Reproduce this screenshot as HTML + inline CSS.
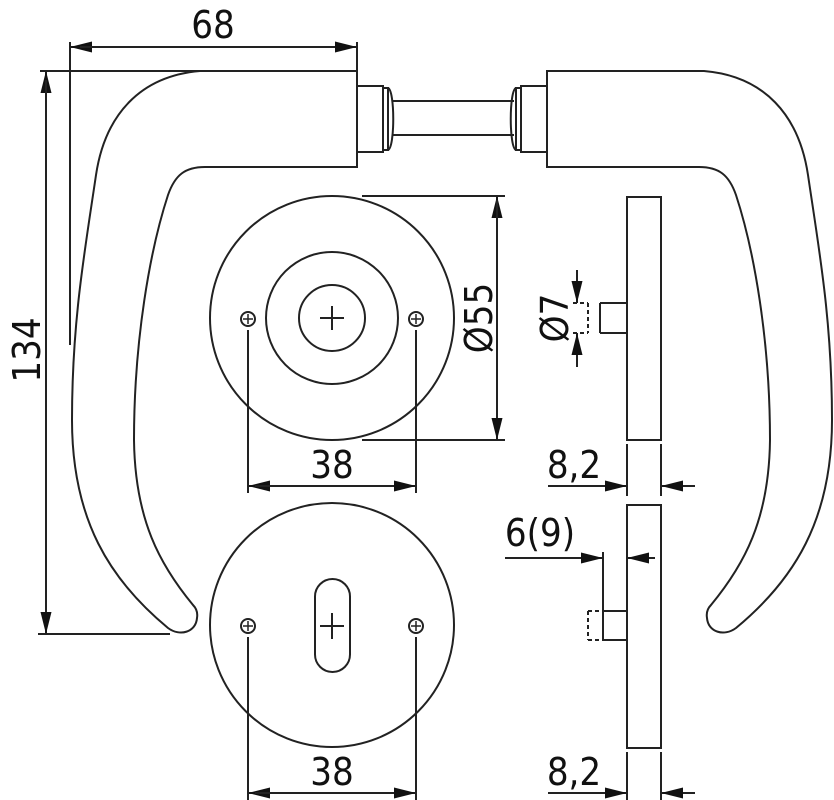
<!DOCTYPE html>
<html><head><meta charset="utf-8"><style>
html,body{margin:0;padding:0;background:#fff;}
svg{display:block;}
text{font-family:"DejaVu Sans Condensed","DejaVu Sans","Liberation Sans",sans-serif;font-stretch:condensed;fill:#111;}
</style></head><body>
<svg width="834" height="800" viewBox="0 0 834 800" xmlns="http://www.w3.org/2000/svg">
<defs>
<marker id="a" viewBox="0 0 22 12" refX="22" refY="6" markerWidth="22" markerHeight="12" markerUnits="userSpaceOnUse" orient="auto"><path d="M0,0.5 L22,6 L0,11.5 z" fill="#111"/></marker>
</defs>
<g fill="none" stroke="#222" stroke-width="2">
<path d="M357,71 L200,71 C140,76 105,115 96,175 C85,250 72,320 72,420 C72,520 110,580 168,628 C180,637 196,632 197,618 C198,612 196,608 193,605 C160,565 135,520 134,440 C134,340 150,250 168,195 C175,175 185,167 205,167 L357,167 Z"/>
<path transform="translate(904,0) scale(-1,1)" d="M357,71 L200,71 C140,76 105,115 96,175 C85,250 72,320 72,420 C72,520 110,580 168,628 C180,637 196,632 197,618 C198,612 196,608 193,605 C160,565 135,520 134,440 C134,340 150,250 168,195 C175,175 185,167 205,167 L357,167 Z"/>
<rect x="357" y="86" width="26" height="66"/>
<rect x="383" y="88" width="5" height="62"/>
<path d="M388,88 C395,90 395,148 388,150"/>
<line x1="393" y1="101" x2="514" y2="101"/>
<line x1="393" y1="135" x2="514" y2="135"/>
<rect x="521" y="86" width="26" height="66"/>
<rect x="516" y="88" width="5" height="62"/>
<path d="M516,88 C509,90 509,148 516,150"/>
<line x1="70" y1="42" x2="70" y2="345"/>
<line x1="357" y1="42" x2="357" y2="71"/>
<line x1="90" y1="47" x2="70" y2="47" marker-end="url(#a)"/>
<line x1="80" y1="47" x2="357" y2="47" marker-end="url(#a)"/>
<line x1="40" y1="71" x2="200" y2="71"/>
<line x1="38" y1="634" x2="170" y2="634"/>
<line x1="46" y1="90" x2="46" y2="71" marker-end="url(#a)"/>
<line x1="46" y1="80" x2="46" y2="634" marker-end="url(#a)"/>
<circle cx="332" cy="318" r="122"/>
<circle cx="332" cy="318" r="66"/>
<circle cx="332" cy="318" r="33"/>
<line x1="320" y1="318" x2="344" y2="318"/><line x1="332" y1="306" x2="332" y2="330"/>
<circle cx="248" cy="319" r="7"/><circle cx="416" cy="319" r="7"/>
<path d="M243,319h10M248,314v10M411,319h10M416,314v10" stroke-width="1.5"/>
<line x1="362" y1="196" x2="505" y2="196"/>
<line x1="362" y1="440" x2="505" y2="440"/>
<line x1="497" y1="210" x2="497" y2="196" marker-end="url(#a)"/>
<line x1="497" y1="200" x2="497" y2="440" marker-end="url(#a)"/>
<line x1="248" y1="330" x2="248" y2="493"/>
<line x1="416" y1="330" x2="416" y2="493"/>
<line x1="260" y1="486" x2="248" y2="486" marker-end="url(#a)"/>
<line x1="255" y1="486" x2="416" y2="486" marker-end="url(#a)"/>
<circle cx="332" cy="625" r="122"/>
<rect x="315" y="579" width="35" height="93" rx="17.5"/>
<line x1="320" y1="626" x2="344" y2="626"/><line x1="332" y1="613" x2="332" y2="639"/>
<circle cx="248" cy="626" r="7"/><circle cx="416" cy="626" r="7"/>
<path d="M243,626h10M248,621v10M411,626h10M416,621v10" stroke-width="1.5"/>
<line x1="248" y1="637" x2="248" y2="800"/>
<line x1="416" y1="637" x2="416" y2="800"/>
<line x1="260" y1="793" x2="248" y2="793" marker-end="url(#a)"/>
<line x1="255" y1="793" x2="416" y2="793" marker-end="url(#a)"/>
<rect x="627" y="197" width="34" height="243"/>
<path d="M600,303 L627,303 M600,333 L627,333 M600,303 L600,333"/>
<path d="M588,303 L588,333 M573,303 L588,303 M573,333 L588,333" stroke-dasharray="4,3"/>
<line x1="577" y1="270" x2="577" y2="303" marker-end="url(#a)"/>
<line x1="577" y1="367" x2="577" y2="333" marker-end="url(#a)"/>
<line x1="627" y1="444" x2="627" y2="496"/>
<line x1="661" y1="444" x2="661" y2="496"/>
<line x1="548" y1="486" x2="627" y2="486" marker-end="url(#a)"/>
<line x1="695" y1="486" x2="661" y2="486" marker-end="url(#a)"/>
<rect x="627" y="505" width="34" height="243"/>
<path d="M603,611 L627,611 M603,640 L627,640"/>
<path d="M588,611 L588,640 M588,611 L603,611 M588,640 L603,640" stroke-dasharray="4,3"/>
<line x1="603" y1="552" x2="603" y2="640"/>
<line x1="505" y1="558" x2="603" y2="558" marker-end="url(#a)"/>
<line x1="655" y1="558" x2="627" y2="558" marker-end="url(#a)"/>
<line x1="627" y1="752" x2="627" y2="800"/>
<line x1="661" y1="752" x2="661" y2="800"/>
<line x1="548" y1="793" x2="627" y2="793" marker-end="url(#a)"/>
<line x1="695" y1="793" x2="661" y2="793" marker-end="url(#a)"/>
</g>
<g font-size="38">
<text x="213" y="38" text-anchor="middle">68</text>
<text x="332" y="478" text-anchor="middle">38</text>
<text x="332" y="785" text-anchor="middle">38</text>
<text x="574" y="478" text-anchor="middle">8,2</text>
<text x="574" y="785" text-anchor="middle">8,2</text>
<text x="540" y="546" text-anchor="middle">6(9)</text>
<text transform="translate(40,350) rotate(-90)" text-anchor="middle">134</text>
<text transform="translate(492,318) rotate(-90)" text-anchor="middle">Ø55</text>
<text transform="translate(568,318) rotate(-90)" text-anchor="middle">Ø7</text>
</g>
</svg>
</body></html>
